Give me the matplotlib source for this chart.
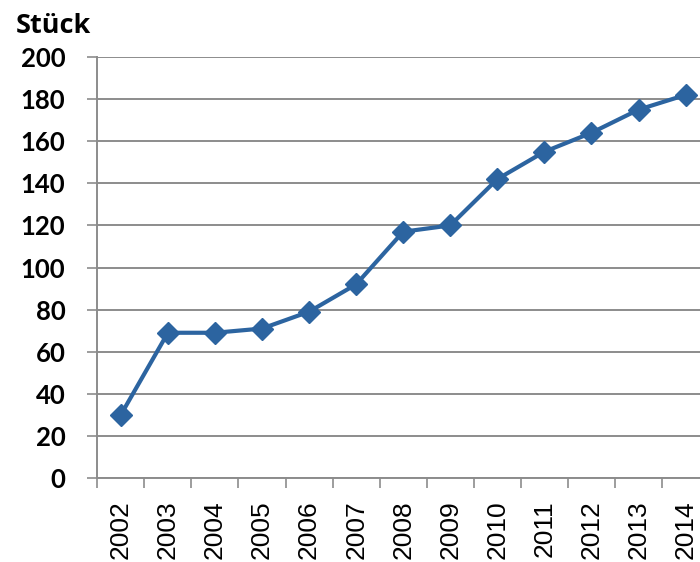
import matplotlib.pyplot as plt
import numpy as np

years = ['2002', '2003', '2004', '2005', '2006', '2007', '2008',
         '2009', '2010', '2011', '2012', '2013', '2014']
stueck = [30, 69, 69, 71, 79, 92, 117, 120, 142, 155, 164, 175, 182]
y_ticks = list(range(0, 201, 20))

line_color = '#2C64A0'
grid_color = '#8C8C8C'

fig = plt.figure(figsize=(7, 5.62), dpi=100)
ax = fig.add_axes([0.139, 0.1495, 0.874, 0.749])

x = np.arange(len(years))
ax.plot(x, stueck, color=line_color, linewidth=3, marker='D', markersize=11,
        zorder=3, clip_on=False)

ax.set_xlim(-0.5, len(years) - 0.5)
ax.set_ylim(0, 200)

# y axis
ax.set_yticks(y_ticks)
ax.set_yticklabels([str(v) for v in y_ticks], fontfamily='Lato',
                   fontweight='bold', fontsize=18.5)
ax.tick_params(axis='y', length=7, width=1.2, color=grid_color, pad=16)
ax.yaxis.grid(True, color=grid_color, linewidth=1.4)
ax.set_axisbelow(True)

# x axis: labels centred, ticks between categories
ax.set_xticks(x)
ax.set_xticklabels(years, rotation=90, fontfamily='Liberation Sans',
                   fontsize=19)
ax.tick_params(axis='x', which='major', length=0, pad=16)
ax.set_xticks(np.arange(len(years) + 1) - 0.5, minor=True)
ax.tick_params(axis='x', which='minor', length=7, width=1.2, color=grid_color)

for side in ['top', 'right']:
    ax.spines[side].set_visible(False)
for side in ['left', 'bottom']:
    ax.spines[side].set_color(grid_color)
    ax.spines[side].set_linewidth(1.4)

fig.text(16 / 700, 1 - 33 / 562, 'Stück', fontfamily='Open Sans',
         fontweight='bold', fontsize=19.5, ha='left', va='baseline')

plt.savefig('out.png', dpi=100)
